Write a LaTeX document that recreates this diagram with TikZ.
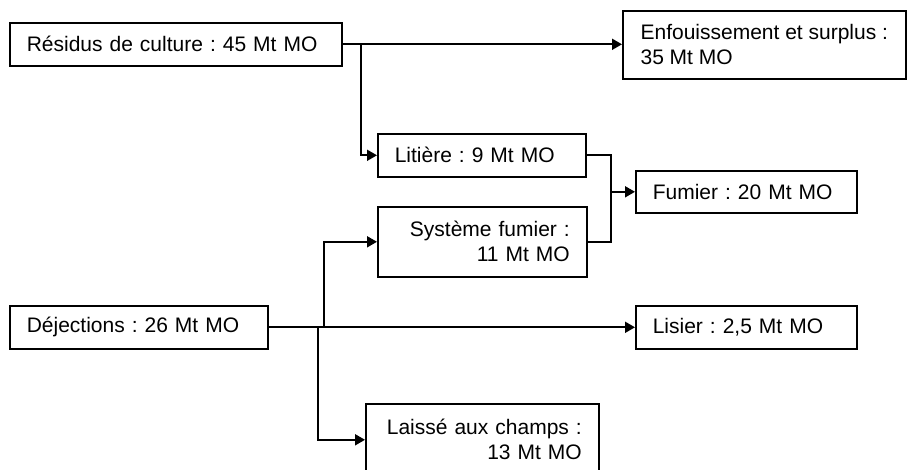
\documentclass[tikz,border=0pt]{standalone}
\usepackage{fontspec}
\setmainfont{Liberation Sans}
\usetikzlibrary{arrows.meta,calc}
\frenchspacing
\begin{document}
\begin{tikzpicture}[x=1pt,y=-1pt,
  box/.style={draw=black,line width=1.6pt,rectangle,anchor=north west,inner xsep=17pt,inner ysep=0pt,
    font=\fontsize{21}{25}\selectfont\frenchspacing},
  lbox/.style={box,align=left},
  rbox/.style={box,align=right},
  conn/.style={line width=1.8pt},
  arr/.style={conn,-{Triangle[length=10pt,width=11pt]}}]
\useasboundingbox (0,0) rectangle (907,470);
\fill[white] (0,0) rectangle (907,470);
% boxes
\node[lbox,text width=298pt,minimum height=43pt] (res) at (9,22) {Résidus de culture : 45 Mt MO};
\node[box,align=left,inner xsep=15pt,minimum width=283pt,minimum height=68pt] (enf) at (622,10) {Enfouissement et surplus :\\35 Mt MO};
\node[lbox,text width=174pt,minimum height=43pt] (lit) at (377,133) {Litière : 9 Mt MO};
\node[lbox,text width=187pt,minimum height=42pt] (fum) at (635,170) {Fumier : 20 Mt MO};
\node[rbox,text width=175pt,minimum height=70pt] (sys) at (377,206) {Système fumier :\\11 Mt MO};
\node[lbox,text width=224pt,minimum height=43pt] (dej) at (9,305) {Déjections : 26 Mt MO};
\node[lbox,text width=187pt,minimum height=43pt] (lis) at (635,305) {Lisier : 2,5 Mt MO};
\node[rbox,text width=199pt,minimum height=72pt] (lai) at (365,403) {Laissé aux champs :\\13 Mt MO};
% junctions
\coordinate (j1) at ($(res.east)+(18,0)$);
\coordinate (j2) at (611,0);
\coordinate (j3) at ($(dej.east)+(55,0)$);
\coordinate (j4) at ($(dej.east)+(49,0)$);
% connectors
\draw[arr] (res.east) -- (res.east -| enf.west);
\draw[arr] (j1) |- (lit.west);
\draw[conn] (lit.east) -| (j2 |- fum.west);
\draw[conn] (sys.east) -| (j2 |- fum.west);
\draw[arr] (j2 |- fum.west) -- (fum.west);
\draw[arr] (dej.east) -- (dej.east -| lis.west);
\draw[arr] (j3) |- (sys.west);
\draw[arr] (j4) |- (lai.west);
\end{tikzpicture}
\end{document}
